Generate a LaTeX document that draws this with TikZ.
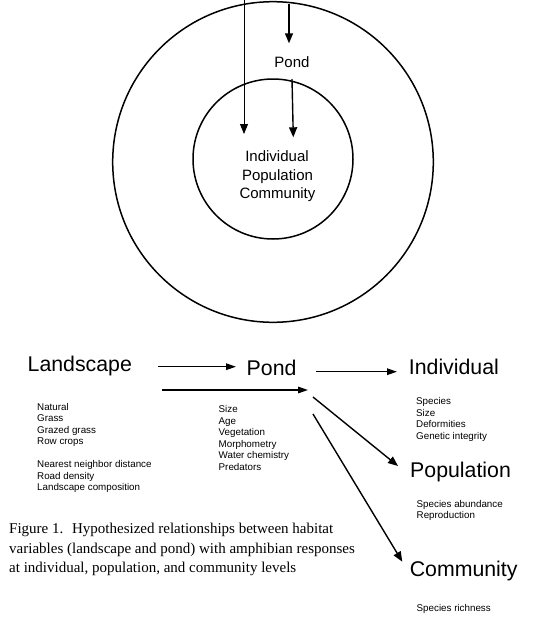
\documentclass[tikz,border=0pt]{standalone}
\usepackage{fontspec}
\setmainfont{Liberation Serif}
\setsansfont{Liberation Sans}
\usetikzlibrary{arrows.meta}
\begin{document}
\begin{tikzpicture}[x=1pt,y=-1pt,
  big/.style={font=\sffamily\fontsize{21.3}{24}\selectfont, inner sep=0pt, anchor=base west},
  mid/.style={font=\sffamily\fontsize{15}{18}\selectfont, inner sep=0pt, anchor=base},
  lst/.style={font=\sffamily\fontsize{9.8}{11}\selectfont, inner sep=0pt, anchor=base west},
  captxt/.style={font=\rmfamily\fontsize{15}{18}\selectfont, inner sep=0pt, anchor=base west},
  ring/.style={draw, circle, line width=1.5pt, inner sep=0pt},
  arr/.style={-{Triangle[length=10pt,width=6.5pt]}, line width=1.5pt},
  diagarr/.style={-{Triangle[length=10pt,width=8pt]}, line width=1.4pt},
  thinarr/.style={-{Triangle[length=10pt,width=8pt]}, line width=0.9pt},
  cirarr/.style={-{Triangle[length=10pt,width=8pt]}, line width=1.4pt},
]
\useasboundingbox (0,0) rectangle (549,629);

% --- circles ---
\node[ring, minimum size=320.6pt] (outer) at (273,162) {};
\node[ring, minimum size=160pt] (inner) at (273,159) {};

\node[mid] (cpond) at (292,67.7) {Pond};
\node[mid] (cind) at (277,161.7) {Individual};
\node[mid] (cpop) at (277.5,180) {Population};
\node[mid] (ccom) at (277.5,198.3) {Community};

\coordinate (c1s) at (244,0);
\coordinate (c1e) at (244,134);
\coordinate (c2s) at (289,4);
\coordinate (c2e) at (289,43.3);
\coordinate (c3s) at (292,79);
\coordinate (c3e) at (293.3,137.3);
\draw[thinarr] (c1s) -- (c1e);
\draw[cirarr] (c2s) -- (c2e);
\draw[cirarr] (c3s) -- (c3e);

% --- flow diagram ---
\node[big] (land) at (27.5,371.7) {Landscape};
\node[big] (pond) at (246.5,375) {Pond};
\node[big] (indiv) at (408.7,374) {Individual};
\node[big] (popu) at (410,477.3) {Population};
\node[big] (comm) at (409.6,576.7) {Community};

\coordinate (a1s) at (158,366.7);
\coordinate (a1e) at (236,366.7);
\coordinate (a2s) at (316,371.7);
\coordinate (a2e) at (397,371.7);
\coordinate (a3s) at (162,390);
\coordinate (a3e) at (308,390);
\coordinate (a4s) at (313,397);
\coordinate (a4e) at (398,466);
\coordinate (a5s) at (313,414);
\coordinate (a5e) at (402.3,561.7);
\draw[arr] (a1s) -- (a1e);
\draw[arr] (a2s) -- (a2e);
\draw[arr] (a3s) -- (a3e);
\draw[diagarr] (a4s) -- (a4e);
\draw[diagarr] (a5s) -- (a5e);

% --- lists ---
\foreach \t [count=\i] in {Natural, Grass, Grazed grass, Row crops}
  \node[lst, name=ll\i] at (37,{410+11.5*(\i-1)}) {\t};
\foreach \t [count=\i] in {Nearest neighbor distance, Road density, Landscape composition}
  \node[lst, name=lm\i] at (37,{467.5+11.5*(\i-1)}) {\t};
\foreach \t [count=\i] in {Size, Age, Vegetation, Morphometry, Water chemistry, Predators}
  \node[lst, name=pl\i] at (218.5,{412.5+11.5*(\i-1)}) {\t};
\foreach \t [count=\i] in {Species, Size, Deformities, Genetic integrity}
  \node[lst, name=il\i] at (416,{404.5+11.5*(\i-1)}) {\t};
\foreach \t [count=\i] in {Species abundance, Reproduction}
  \node[lst, name=ql\i] at (416.5,{507+11.5*(\i-1)}) {\t};
\node[lst] (cl1) at (416.5,611) {Species richness};

% --- caption ---
\node[captxt] (cap1) at (9,533.3) {Figure 1.~ Hypothesized relationships between habitat};
\node[captxt] (cap2) at (9,553) {variables (landscape and pond) with amphibian responses};
\node[captxt] (cap3) at (9,572) {at individual, population, and community levels};
\end{tikzpicture}
\end{document}
